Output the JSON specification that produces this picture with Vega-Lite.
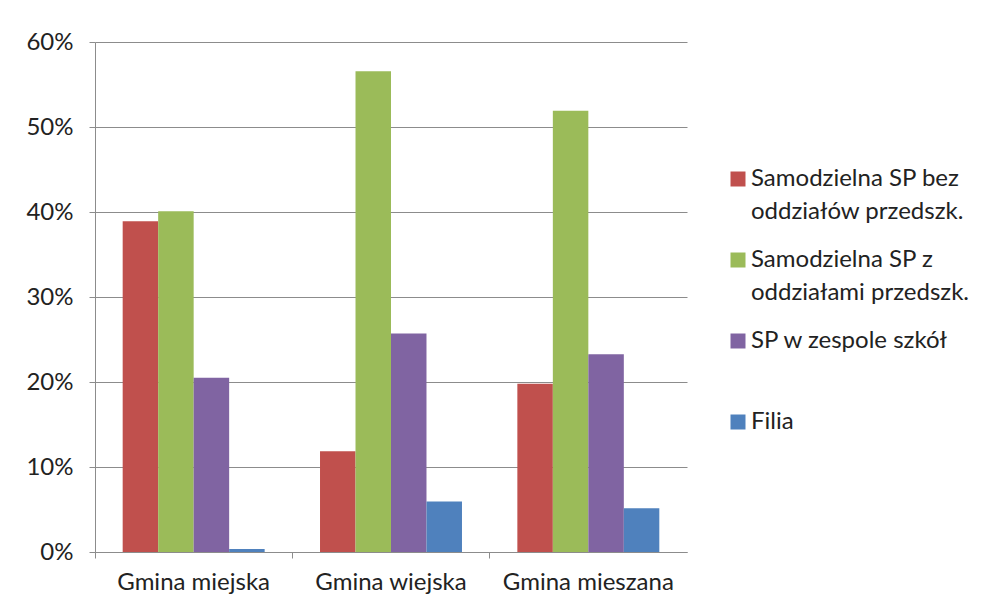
{
  "$schema": "https://vega.github.io/schema/vega-lite/v6.json",
  "width": 592,
  "height": 510,
  "autosize": "none",
  "padding": {"left": 95, "top": 42, "right": 302, "bottom": 55},
  "background": "white",
  "config": {
    "font": "Lato",
    "view": {"stroke": null},
    "axis": {
      "labelFont": "Lato",
      "labelFontSize": 24,
      "labelColor": "#222222",
      "domainColor": "#8c8c8c",
      "tickColor": "#8c8c8c",
      "gridColor": "#8c8c8c",
      "gridOpacity": 1,
      "tickSize": 6
    },
    "legend": {
      "labelFont": "Lato",
      "labelFontSize": 24,
      "labelColor": "#222222"
    }
  },
  "data": {
    "values": [
      {"category": "Gmina miejska", "type": "Samodzielna SP bez oddziałów przedszk.", "value": 0.389},
      {"category": "Gmina miejska", "type": "Samodzielna SP z oddziałami przedszk.", "value": 0.401},
      {"category": "Gmina miejska", "type": "SP w zespole szkół", "value": 0.205},
      {"category": "Gmina miejska", "type": "Filia", "value": 0.0035},
      {"category": "Gmina wiejska", "type": "Samodzielna SP bez oddziałów przedszk.", "value": 0.1185},
      {"category": "Gmina wiejska", "type": "Samodzielna SP z oddziałami przedszk.", "value": 0.5655},
      {"category": "Gmina wiejska", "type": "SP w zespole szkół", "value": 0.257},
      {"category": "Gmina wiejska", "type": "Filia", "value": 0.0593},
      {"category": "Gmina mieszana", "type": "Samodzielna SP bez oddziałów przedszk.", "value": 0.198},
      {"category": "Gmina mieszana", "type": "Samodzielna SP z oddziałami przedszk.", "value": 0.519},
      {"category": "Gmina mieszana", "type": "SP w zespole szkół", "value": 0.2326},
      {"category": "Gmina mieszana", "type": "Filia", "value": 0.0514}
    ]
  },
  "mark": {"type": "bar"},
  "encoding": {
    "x": {
      "field": "category",
      "type": "nominal",
      "sort": ["Gmina miejska", "Gmina wiejska", "Gmina mieszana"],
      "scale": {"paddingInner": 0, "paddingOuter": 0},
      "axis": {"title": null, "labelAngle": 0, "bandPosition": 0, "labelPadding": 12, "grid": false}
    },
    "xOffset": {
      "field": "type",
      "type": "nominal",
      "sort": ["Samodzielna SP bez oddziałów przedszk.", "Samodzielna SP z oddziałami przedszk.", "SP w zespole szkół", "Filia"],
      "scale": {"paddingInner": 0, "paddingOuter": 0.78}
    },
    "y": {
      "field": "value",
      "type": "quantitative",
      "scale": {"domain": [0, 0.6]},
      "axis": {"title": null, "format": ".0%", "values": [0, 0.1, 0.2, 0.3, 0.4, 0.5, 0.6], "labelPadding": 16, "grid": true}
    },
    "color": {
      "field": "type",
      "type": "nominal",
      "scale": {
        "domain": ["Samodzielna SP bez oddziałów przedszk.", "Samodzielna SP z oddziałami przedszk.", "SP w zespole szkół", "Filia"],
        "range": ["#C0504D", "#9BBB59", "#8064A2", "#4F81BD"]
      },
      "legend": {
        "title": null,
        "orient": "none",
        "legendX": 631,
        "legendY": 125,
        "padding": 0,
        "rowPadding": 24,
        "labelOffset": 1,
        "labelLimit": 300,
        "symbolType": "square",
        "symbolSize": 225,
        "symbolStrokeWidth": 0,
        "labelExpr": "datum.label == 'Samodzielna SP bez oddziałów przedszk.' ? ['Samodzielna SP bez', 'oddziałów przedszk.'] : datum.label == 'Samodzielna SP z oddziałami przedszk.' ? ['Samodzielna SP z', 'oddziałami przedszk.'] : [datum.label, '']",
        "encode": {"labels": {"update": {"lineHeight": {"value": 33}}}}
      }
    }
  }
}
